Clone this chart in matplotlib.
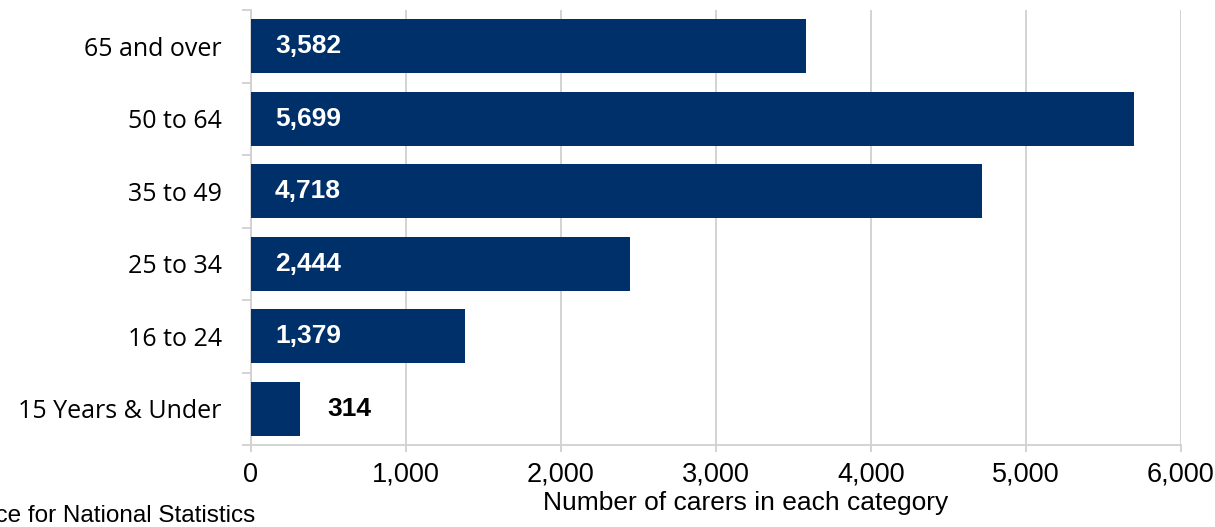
import matplotlib.pyplot as plt
import numpy as np
from matplotlib.ticker import FuncFormatter

ages = ["15 Years & Under", "16 to 24", "25 to 34", "35 to 49", "50 to 64", "65 and over"]
carers = [314, 1379, 2444, 4718, 5699, 3582]
x_ticks = [0, 1000, 2000, 3000, 4000, 5000, 6000]

BAR = "#003069"
GRID = "#D0D0D0"

fig = plt.figure(figsize=(12.15, 5.27), dpi=100)
ax = fig.add_axes([251 / 1215, 1 - 445 / 527, 930 / 1215, 435 / 527])

y = np.arange(len(ages))
ax.barh(y, carers, height=0.75, color=BAR, zorder=3)

ax.set_xlim(0, 6000)
ax.set_ylim(-0.5, len(ages) - 0.5)
ax.set_xticks(x_ticks)
ax.xaxis.set_major_formatter(FuncFormatter(lambda v, p: f"{int(v):,}"))
ax.grid(axis="x", color=GRID, lw=1.3, zorder=0)

# category labels sit between the boundary ticks
ax.set_yticks(y)
ax.set_yticklabels(ages, family="Open Sans", fontsize=18)
ax.set_yticks(np.arange(len(ages) + 1) - 0.5, minor=True)
ax.tick_params(axis="y", which="major", length=0, pad=21)
ax.tick_params(axis="y", which="minor", length=6.5, color=GRID, width=1.3)
ax.tick_params(axis="x", length=5, color=GRID, width=1.3, pad=7)
for lab in ax.get_xticklabels():
    lab.set_family("Liberation Sans")
    lab.set_fontsize(19.5)

for s in ["top", "right"]:
    ax.spines[s].set_visible(False)
for s in ["left", "bottom"]:
    ax.spines[s].set_color(GRID)
    ax.spines[s].set_linewidth(1.3)

ax.set_xlabel("Number of carers in each category", family="Liberation Sans",
              fontsize=19)
ax.xaxis.set_label_coords((746 - 251) / 930, -0.105)

for yi, v in zip(y, carers):
    if v > 1000:
        ax.annotate(f"{v:,}", (0, yi), xytext=(24, 0), textcoords="offset pixels",
                    ha="left", va="center", color="white", fontsize=19,
                    fontweight="bold", family="Liberation Sans", zorder=4)
    else:
        ax.annotate(f"{v:,}", (v, yi), xytext=(28, 0), textcoords="offset pixels",
                    ha="left", va="center", color="black", fontsize=19,
                    fontweight="bold", family="Liberation Sans", zorder=4)

fig.text(255 / 1215, 1 - 516 / 527, "Source: Office for National Statistics",
         ha="right", va="center", family="Liberation Sans", fontsize=17.5)

fig.savefig("out.png", dpi=100)
